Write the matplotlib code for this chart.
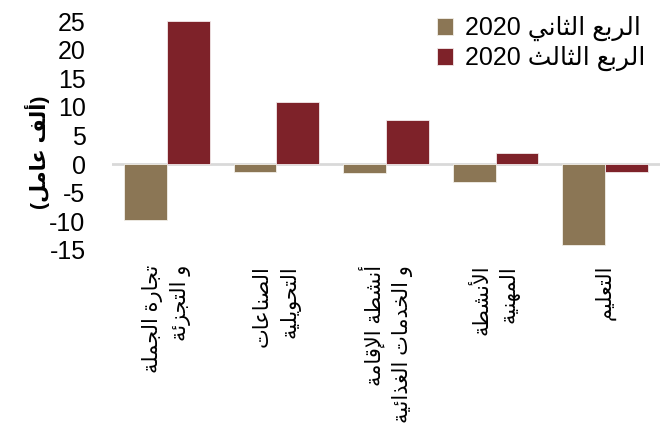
import matplotlib
matplotlib.use("Agg")
import matplotlib.pyplot as plt
import numpy as np

# --- data ---
categories = ["تجارة الجملة\nو التجزئة", "الصناعات\nالتحويلية",
              "أنشطة الإقامة\nو الخدمات الغذائية", "الأنشطة\nالمهنية", "التعليم"]
q2_values = [-9.8, -1.4, -1.6, -3.1, -14.2]
q3_values = [25.1, 10.9, 7.8, 1.9, -1.4]
series_names = ["الربع الثاني", "الربع الثالث"]
series_year = "2020"
y_ticks = [-15, -10, -5, 0, 5, 10, 15, 20, 25]
y_label = "(ألف عامل)"

# --- minimal arabic shaping (presentation forms B) ---
_letters = [("ء", 1), ("آ", 2), ("أ", 2), ("ؤ", 2), ("إ", 2), ("ئ", 4), ("ا", 2),
            ("ب", 4), ("ة", 2), ("ت", 4), ("ث", 4), ("ج", 4), ("ح", 4), ("خ", 4),
            ("د", 2), ("ذ", 2), ("ر", 2), ("ز", 2), ("س", 4), ("ش", 4), ("ص", 4),
            ("ض", 4), ("ط", 4), ("ظ", 4), ("ع", 4), ("غ", 4), ("ف", 4), ("ق", 4),
            ("ك", 4), ("ل", 4), ("م", 4), ("ن", 4), ("ه", 4), ("و", 2), ("ى", 2),
            ("ي", 4)]
FORMS = {}
_code = 0xFE80
for ch, n in _letters:
    FORMS[ch] = (n, _code)
    _code += n
LAM_ALEF = {"آ": 0xFEF5, "أ": 0xFEF7, "إ": 0xFEF9, "ا": 0xFEFB}


def _shape(s):
    out = []
    i = 0
    prev_joins = False
    while i < len(s):
        ch = s[i]
        if ch not in FORMS:
            out.append(ch)
            prev_joins = False
            i += 1
            continue
        n, base = FORMS[ch]
        nxt = s[i + 1] if i + 1 < len(s) else ""
        if ch == "ل" and nxt in LAM_ALEF:
            out.append(chr(LAM_ALEF[nxt] + (1 if prev_joins else 0)))
            prev_joins = False
            i += 2
            continue
        joins_next = n == 4 and nxt in FORMS
        jp = prev_joins and n > 1
        if n == 1:
            form = 0
        elif jp and joins_next:
            form = 3
        elif jp:
            form = 1
        elif joins_next:
            form = 2
        else:
            form = 0
        out.append(chr(base + form))
        prev_joins = joins_next
        i += 1
    return "".join(out)


def ar(s):
    lines = []
    for line in s.split("\n"):
        vis = _shape(line)[::-1]
        vis = vis.translate(str.maketrans("()", ")("))
        lines.append(vis)
    return "\n".join(lines)


plt.rcParams["font.family"] = ["Liberation Sans", "DejaVu Sans"]

c_q2 = "#8B7655"
c_q3 = "#7E2229"

fig = plt.figure(figsize=(6.6, 4.29), dpi=100)
ax = fig.add_axes([0.1697, 0.4184, 0.8303, 0.5315])

x = np.arange(len(categories))
w = 0.39
ax.bar(x - w / 2, q2_values, w, color=c_q2, edgecolor="#f2efe9", linewidth=0.6,
       label=series_year + " " + ar(series_names[0]), zorder=3)
ax.bar(x + w / 2, q3_values, w, color=c_q3, edgecolor="#f2e9ea", linewidth=0.6,
       label=series_year + " " + ar(series_names[1]), zorder=3)
ax.axhline(0, color="#d9d9d9", linewidth=2, zorder=2)

ax.set_xlim(-0.5, len(categories) - 0.5)
ax.set_ylim(-15, 25)
ax.set_yticks(y_ticks)
ax.set_yticklabels([str(t) for t in y_ticks], fontsize=18)
ax.set_xticks(x)
ax.set_xticklabels([ar(c) for c in categories], rotation=90, fontsize=15,
                   va="top", ha="center", multialignment="right", linespacing=1.45)
ax.tick_params(axis="y", length=0, pad=19)
ax.tick_params(axis="x", length=0, pad=11)
for sp in ax.spines.values():
    sp.set_visible(False)

fig.text(37 / 660, 1 - 152 / 429, ar(y_label), rotation=90, fontsize=15,
         fontweight="bold", ha="center", va="center")

leg = ax.legend(loc="upper right", bbox_to_anchor=(1.0, 1.09), frameon=False,
                fontsize=18, handlelength=0.65, handleheight=0.65, handletextpad=0.45,
                labelspacing=0.2, borderpad=0.1)

fig.savefig("out.png", dpi=100)
